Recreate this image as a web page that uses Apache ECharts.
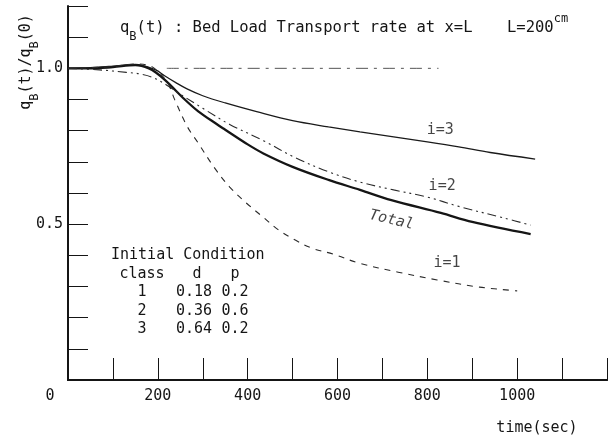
<!DOCTYPE html>
<html>
<head>
<meta charset="utf-8">
<script src="https://cdn.jsdelivr.net/npm/echarts@6/dist/echarts.min.js"></script>
<style>html,body{margin:0;padding:0;background:#fff}#c{width:610px;height:440px}</style>
</head>
<body>
<div id="c"></div>
<script>
// ---- data ----
const totalT = [0, 50, 100, 150, 180, 200, 215, 230, 260, 290, 330, 350, 400, 435, 500, 580, 650, 720, 830, 900, 1030];
const totalV = [1.0, 1.0, 1.004, 1.01, 1.0, 0.982, 0.964, 0.943, 0.900, 0.862, 0.822, 0.803, 0.756, 0.727, 0.684, 0.642, 0.610, 0.577, 0.536, 0.507, 0.468];

const i3T = [0, 50, 100, 150, 195, 215, 240, 265, 300, 350, 420, 500, 580, 650, 725, 800, 870, 940, 1040];
const i3V = [1.0, 1.002, 1.007, 1.013, 0.995, 0.976, 0.954, 0.934, 0.912, 0.889, 0.861, 0.832, 0.812, 0.796, 0.780, 0.764, 0.748, 0.730, 0.709];

const i2T = [0, 70, 130, 160, 190, 220, 250, 300, 360, 435, 505, 580, 650, 725, 800, 870, 970, 1030];
const i2V = [1.0, 0.995, 0.987, 0.982, 0.97, 0.946, 0.917, 0.872, 0.820, 0.768, 0.714, 0.668, 0.635, 0.610, 0.587, 0.557, 0.520, 0.497];

const i1T = [0, 50, 100, 150, 183, 200, 222, 238, 266, 290, 325, 360, 397, 434, 469, 506, 543, 590, 648, 735, 822, 916, 1000];
const i1V = [1.0, 1.002, 1.006, 1.014, 1.008, 0.99, 0.953, 0.898, 0.812, 0.76, 0.683, 0.619, 0.568, 0.523, 0.481, 0.449, 0.423, 0.404, 0.375, 0.346, 0.321, 0.298, 0.286];

const refT = [220, 825];
const refV = [1.0, 1.0];

const curveLabels = ['i=3', 'i=2', 'Total', 'i=1'];
const curveLabelT = [829, 833, 720, 844];
const curveLabelV = [0.802, 0.622, 0.513, 0.375];

const xLabelValues = [200, 400, 600, 800, 1000];
const yLabelValues = [1.0, 0.5];

const condHeader = ['class', 'd', 'p'];
const condClass = ['1', '2', '3'];
const condD = ['0.18', '0.36', '0.64'];
const condP = ['0.2', '0.6', '0.2'];

// ---- build ----
const FONT = '"DejaVu Sans Mono", monospace';
const INK = '#151515';
const zip = (a, b) => a.map((t, i) => [t, b[i]]);

const chart = echarts.init(document.getElementById('c'), null, {renderer: 'canvas'});

function lineSeries(t, v, width, type, color) {
  return {
    type: 'line', data: zip(t, v), showSymbol: false, smooth: 0.35,
    lineStyle: {width: width, type: type, color: color || INK},
    silent: true, z: 3
  };
}

const labelSeries = {
  type: 'scatter', symbolSize: 0, silent: true, z: 5,
  data: curveLabels.map((n, i) => ({
    value: [curveLabelT[i], curveLabelV[i]],
    label: {
      show: true, formatter: n, position: 'inside',
      fontFamily: FONT, fontSize: 15, color: INK,
      fontStyle: n === 'Total' ? 'italic' : 'normal',
      rotate: n === 'Total' ? -13 : 0
    }
  }))
};

const richMain = {
  a: {fontFamily: FONT, fontSize: 15.5, lineHeight: 30, verticalAlign: 'middle', fill: INK},
  b: {fontFamily: FONT, fontSize: 12, lineHeight: 12, verticalAlign: 'bottom', fill: INK},
  c: {fontFamily: FONT, fontSize: 12, lineHeight: 17, verticalAlign: 'top', fill: INK}
};

const gText = [];
// title
gText.push({
  type: 'text', x: 120, y: 13,
  style: {text: '{a|q}{b|B}{a|(t) : Bed Load Transport rate at x=L}', fill: INK, rich: richMain}
});
gText.push({
  type: 'text', x: 507, y: 13,
  style: {text: '{a|L=200}{c|cm}', fill: INK, rich: richMain}
});
// y axis name
gText.push({
  type: 'text', x: 26, y: 62, rotation: Math.PI / 2,
  style: {
    text: '{a|q}{b|B}{a|(t)/q}{b|B}{a|(0)}',
    align: 'center', verticalAlign: 'middle', fill: INK,
    rich: {
      a: {fontFamily: FONT, fontSize: 15, lineHeight: 30, verticalAlign: 'middle', fill: INK},
      b: {fontFamily: FONT, fontSize: 12, lineHeight: 12, verticalAlign: 'bottom', fill: INK}
    }
  }
});
// origin label and x axis name
gText.push({type: 'text', x: 50, y: 396, style: {text: '0', font: '15px ' + FONT, fill: INK, align: 'center', verticalAlign: 'middle'}});
gText.push({type: 'text', x: 537, y: 428, style: {text: 'time(sec)', font: '15px ' + FONT, fill: INK, align: 'center', verticalAlign: 'middle'}});
// initial condition block
gText.push({type: 'text', x: 111, y: 255, style: {text: 'Initial Condition', font: '15px ' + FONT, fill: INK, align: 'left', verticalAlign: 'middle'}});
const colX = [142, 194, 235];
condHeader.forEach((h, i) => gText.push({type: 'text', x: colX[i] + (i === 1 ? 3 : 0), y: 274, style: {text: h, font: '15px ' + FONT, fill: INK, align: 'center', verticalAlign: 'middle'}}));
const rowY = [292, 311, 329];
[condClass, condD, condP].forEach((col, ci) => col.forEach((s, ri) => gText.push({
  type: 'text', x: colX[ci], y: rowY[ri],
  style: {text: s, font: '15px ' + FONT, fill: INK, align: 'center', verticalAlign: 'middle'}
})));

const option = {
  backgroundColor: '#fff',
  animation: false,
  grid: {left: 68, right: -9, top: 6, bottom: 60, containLabel: false},
  xAxis: [{
    type: 'value', min: 0, max: 1200, interval: 100,
    axisLine: {show: true, onZero: false, lineStyle: {color: INK, width: 2}},
    axisTick: {show: true, inside: true, length: 22, lineStyle: {color: INK, width: 1}},
    splitLine: {show: false},
    axisLabel: {
      margin: 9, fontFamily: FONT, fontSize: 15, color: INK,
      formatter: v => (xLabelValues.indexOf(v) >= 0 ? String(v) : '')
    }
  }, {
    type: 'value', position: 'top', min: 0, max: 1200,
    axisLine: {show: true, lineStyle: {color: INK, width: 2}},
    axisTick: {show: false}, axisLabel: {show: false}, splitLine: {show: false}
  }],
  yAxis: {
    type: 'value', min: 0, max: 1.2, interval: 0.1,
    axisLine: {show: true, onZero: false, lineStyle: {color: INK, width: 2}},
    axisTick: {show: true, inside: true, length: 20, lineStyle: {color: INK, width: 1}},
    splitLine: {show: false},
    axisLabel: {
      margin: 5, fontFamily: FONT, fontSize: 15, color: INK,
      formatter: v => {
        for (const y of yLabelValues) if (Math.abs(v - y) < 1e-6) return y.toFixed(1);
        return '';
      }
    }
  },
  series: [
    lineSeries(totalT, totalV, 2.3, 'solid'),
    lineSeries(i3T, i3V, 1.3, 'solid', '#1a1a1a'),
    lineSeries(i2T, i2V, 1.1, [9, 4, 2, 4, 2, 4], '#2a2a2a'),
    lineSeries(i1T, i1V, 1.1, [6, 6], '#2a2a2a'),
    lineSeries(refT, refV, 1, [12, 6, 3, 6], '#555'),
    labelSeries
  ],
  graphic: gText
};
chart.setOption(option);
</script>
</body>
</html>
